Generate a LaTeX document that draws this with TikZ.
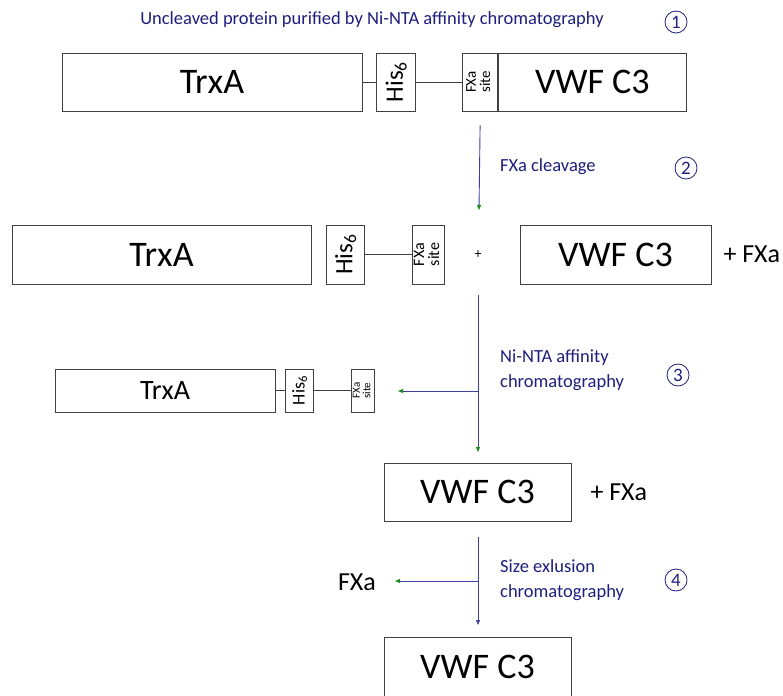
\documentclass[tikz,border=0pt]{standalone}
\usepackage{fontspec}
\setmainfont{Carlito}
\usepackage{graphicx}
\usetikzlibrary{positioning,arrows.meta,calc}

\definecolor{labelblue}{RGB}{30,30,125}
\definecolor{flowblue}{RGB}{62,62,165}
\definecolor{tipgreen}{RGB}{30,140,30}

\newcommand{\hissix}{His\textsubscript{6}}
\newcommand{\fxsite}{\begin{tabular}{@{}c@{}}FXa\\site\end{tabular}}

\begin{document}
\begin{tikzpicture}[
	x=1pt, y=-1pt,
	font=\fontsize{18.5}{25}\selectfont,
	node distance=14pt,
	box/.style={
		draw=black!75,
		line width=0.8pt,
		inner sep=0pt,
		align=center,
	},
	bigtext/.style={font=\fontsize{36}{40}\selectfont},
	midtext/.style={font=\fontsize{26}{28}\selectfont, inner sep=0pt},
	steptext/.style={
		text=labelblue,
		align=left,
		anchor=west,
		inner sep=0pt,
	},
	stepno/.style={
		draw=labelblue,
		text=labelblue,
		circle,
		line width=0.8pt,
		inner sep=0pt,
		minimum size=22pt,
		font=\fontsize{19}{19}\selectfont,
	},
	link/.style={draw=black!75, line width=0.8pt},
	flow/.style={draw=flowblue, line width=0.9pt, -{Triangle[length=5pt,width=4pt,color=tipgreen]}},
	flowend/.style={draw=flowblue, line width=0.9pt, -{Triangle[length=5pt,width=4pt]}},
]
\useasboundingbox (0,0) rectangle (783,695);

% Step 1: uncleaved fusion protein
\node[text=labelblue] (title) at (372,20) {Uncleaved protein purified by Ni-NTA affinity chromatography};
\node[stepno] (no1) at (676,22) {1};

\node[box, bigtext, minimum width=300pt, minimum height=58pt] (trx1) at (212,82) {TrxA};
\node[box, minimum width=39pt, minimum height=58pt, right=14pt of trx1] (his1) {\rotatebox{90}{\fontsize{25}{25}\selectfont\hissix}};
\node[box, minimum width=35pt, minimum height=58pt, right=46pt of his1] (fxa1) {\rotatebox{90}{\fontsize{15}{13}\selectfont\fxsite}};
\node[box, bigtext, minimum width=188pt, minimum height=58pt, right=0pt of fxa1] (vwf1) {VWF C3};
\draw[link] (trx1) -- (his1);
\draw[link] (his1) -- (fxa1);

% Step 2: FXa cleavage
\coordinate (s1top) at ($(fxa1.south)+(0,14)$);
\coordinate (s1end) at (479,210);
\draw[flow] (s1top) -- (s1end);
\node[steptext] (lbl2) at (500,167) {FXa cleavage};
\node[stepno] (no2) at (686,168) {2};

\node[box, bigtext, minimum width=299pt, minimum height=59pt] (trx2) at (161.5,254.5) {TrxA};
\node[box, minimum width=38pt, minimum height=59pt, right=15pt of trx2] (his2) {\rotatebox{90}{\fontsize{25}{25}\selectfont\hissix}};
\node[box, minimum width=32pt, minimum height=59pt, right=47pt of his2] (fxa2) {\rotatebox{90}{\fontsize{16}{14}\selectfont\fxsite}};
\draw[link] (his2) -- (fxa2);
\node[font=\fontsize{14}{14}\selectfont, inner sep=0pt] (plus2) at (478,255) {+};
\node[box, bigtext, minimum width=191pt, minimum height=59pt] (vwf2) at (615.5,254.5) {VWF C3};
\node[midtext, anchor=west, right=12pt of vwf2] (enz2) {+ FXa};

% Step 3: Ni-NTA removes the tagged part
\coordinate (s2top) at (478,295);
\coordinate (s2mid) at (478,391);
\coordinate (s2end) at (478,452);
\coordinate (s2out) at (398,391);
\draw[flow] (s2top) -- (s2end);
\draw[flow] (s2mid) -- (s2out);
\node[steptext] (lbl3) at (500,370) {Ni-NTA affinity\\chromatography};
\node[stepno] (no3) at (678,375) {3};

\node[box, font=\fontsize{28}{30}\selectfont, minimum width=220pt, minimum height=43pt] (trx3) at (165,390.5) {TrxA};
\node[box, minimum width=28pt, minimum height=43pt, right=10pt of trx3] (his3) {\rotatebox{90}{\fontsize{18}{18}\selectfont\hissix}};
\node[box, minimum width=23pt, minimum height=43pt, right=37pt of his3] (fxa3) {\rotatebox{90}{\fontsize{11}{10}\selectfont\fxsite}};
\draw[link] (trx3) -- (his3);
\draw[link] (his3) -- (fxa3);

\node[box, bigtext, minimum width=187pt, minimum height=58pt] (vwf4) at (477.5,492) {VWF C3};
\node[midtext, anchor=west, right=19pt of vwf4] (enz4) {+ FXa};

% Step 4: size exclusion removes FXa
\coordinate (s3top) at (478,537);
\coordinate (s3mid) at (478,581);
\coordinate (s3end) at (478,625);
\coordinate (s3out) at (395,581);
\draw[flowend] (s3top) -- (s3end);
\draw[flow] (s3mid) -- (s3out);
\node[midtext] (enz5) at (357,582) {FXa};
\node[steptext] (lbl4) at (500,580) {Size exlusion\\chromatography};
\node[stepno] (no4) at (676,580) {4};

\node[box, bigtext, minimum width=187pt, minimum height=60pt] (vwf5) at (477.5,667) {VWF C3};

\end{tikzpicture}
\end{document}
